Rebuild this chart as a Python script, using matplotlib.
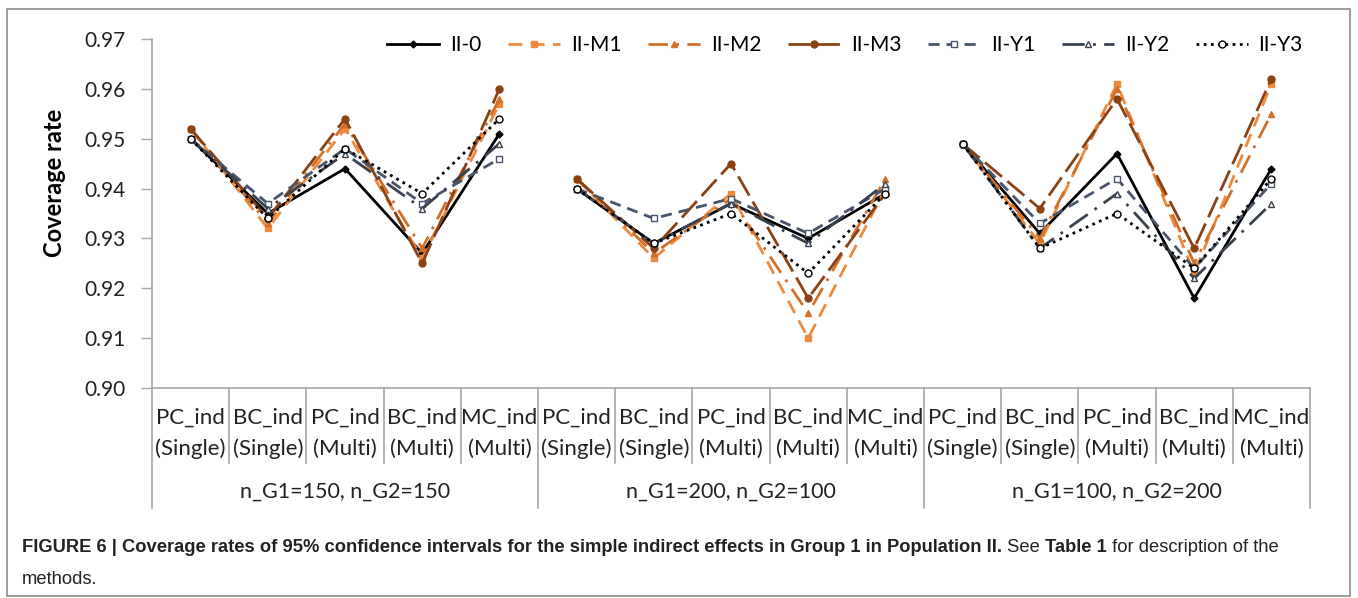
import matplotlib.pyplot as plt
from matplotlib.patches import Rectangle
from matplotlib.lines import Line2D

# categories
methods = ["PC_ind\n(Single)", "BC_ind\n(Single)", "PC_ind\n(Multi)", "BC_ind\n(Multi)", "MC_ind\n(Multi)"]
groups = ["n_G1=150, n_G2=150", "n_G1=200, n_G2=100", "n_G1=100, n_G2=200"]

# coverage rates, 5 methods x 3 sample-size groups
II_0  = [0.950, 0.935, 0.944, 0.927, 0.951,  0.940, 0.929, 0.937, 0.930, 0.939,  0.949, 0.931, 0.947, 0.918, 0.944]
II_M1 = [0.952, 0.932, 0.952, 0.926, 0.957,  0.942, 0.926, 0.939, 0.910, 0.940,  0.949, 0.929, 0.961, 0.923, 0.961]
II_M2 = [0.952, 0.933, 0.953, 0.928, 0.958,  0.942, 0.927, 0.938, 0.915, 0.942,  0.949, 0.930, 0.960, 0.925, 0.955]
II_M3 = [0.952, 0.934, 0.954, 0.925, 0.960,  0.942, 0.928, 0.945, 0.918, 0.939,  0.949, 0.936, 0.958, 0.928, 0.962]
II_Y1 = [0.950, 0.937, 0.948, 0.937, 0.946,  0.940, 0.934, 0.938, 0.931, 0.940,  0.949, 0.933, 0.942, 0.924, 0.941]
II_Y2 = [0.950, 0.936, 0.947, 0.936, 0.949,  0.940, 0.929, 0.937, 0.929, 0.941,  0.949, 0.928, 0.939, 0.922, 0.937]
II_Y3 = [0.950, 0.934, 0.948, 0.939, 0.954,  0.940, 0.929, 0.935, 0.923, 0.939,  0.949, 0.928, 0.935, 0.924, 0.942]

yticks = [0.90, 0.91, 0.92, 0.93, 0.94, 0.95, 0.96, 0.97]

series = [
    ("II-0", II_0, dict(color="black", ls="-", marker="D", ms=3.5, mfc="black")),
    ("II-M1", II_M1, dict(color="#EE8A3E", ls=(0, (5, 3)), marker="s", ms=5, mfc="#EE8A3E")),
    ("II-M2", II_M2, dict(color="#D2702A", ls=(0, (7, 3, 1, 3)), marker="^", ms=5, mfc="#D2702A")),
    ("II-M3", II_M3, dict(color="#8A4215", ls=(0, (8, 2.5)), marker="o", ms=5, mfc="#8A4215")),
    ("II-Y1", II_Y1, dict(color="#475469", ls=(0, (4, 2.5)), marker="s", ms=5, mfc="white")),
    ("II-Y2", II_Y2, dict(color="#38434F", ls=(0, (8, 3, 1, 3)), marker="^", ms=5, mfc="white")),
    ("II-Y3", II_Y3, dict(color="black", ls=(0, (1, 1.6)), marker="o", ms=5, mfc="white")),
]

W, H = 1358, 598
fig = plt.figure(figsize=(W / 100, H / 100), dpi=100)
ax = fig.add_axes([152 / W, 1 - 388 / H, (1310 - 152) / W, (388 - 39) / H])

chart_font = "Lato"
grey = "#A6A6A6"
txt_col = "#222222"

for name, vals, st in series:
    for g in range(3):
        xs = list(range(g * 5, g * 5 + 5))
        ax.plot(xs, vals[g * 5:g * 5 + 5], lw=2.0, mew=1.0, mec=st["color"],
                dash_capstyle="butt", solid_joinstyle="miter", **st,
                label=name if g == 0 else None)

ax.set_xlim(-0.5, 14.5)
ax.set_ylim(0.90, 0.97)
ax.set_yticks(yticks)
ax.set_yticklabels([f"{v:.2f}" for v in yticks], fontsize=15, family=chart_font, color=txt_col)
ax.tick_params(axis="y", direction="out", length=8, width=1, color=grey, pad=11)
ax.set_xticks([])
for s in ["top", "right"]:
    ax.spines[s].set_visible(False)
for s in ["left", "bottom"]:
    ax.spines[s].set_color(grey)
    ax.spines[s].set_linewidth(1.2)

px = 1.0 / (388 - 39)  # one pixel in axes-y units
ax.set_ylabel("Coverage rate", fontsize=17, fontweight="bold", family=chart_font)
ax.yaxis.set_label_coords(-(152 - 55) / (1310 - 152), 1 - (183 - 39) * px)
ax.yaxis.label.set_va("center")

# multi-level category axis
tr = ax.get_xaxis_transform()
for i in range(15):
    top, bot = methods[i % 5].split("\n")
    ax.text(i, -(418 - 388) * px, top, transform=tr, ha="center", va="center",
            fontsize=16, family=chart_font, color=txt_col)
    ax.text(i, -(449 - 388) * px, bot, transform=tr, ha="center", va="center",
            fontsize=16, family=chart_font, color=txt_col)
for k in range(16):
    x = k - 0.5
    bottom = 508 if k % 5 == 0 else 463
    ax.add_line(Line2D([x, x], [0, -(bottom - 388) * px], transform=tr,
                       color=grey, lw=1.2, clip_on=False))
for g, lab in enumerate(groups):
    ax.text(g * 5 + 2, -(492 - 388) * px, lab, transform=tr, ha="center", va="center",
            fontsize=15.5, family=chart_font, color=txt_col)

ax.legend(loc="center right", bbox_to_anchor=(1.01, 1 - (45 - 39) * px), ncol=7,
          frameon=False, handlelength=2.5, columnspacing=1.3, handletextpad=0.5,
          prop={"family": chart_font, "size": 15})

# frame around the figure
fig.patches.append(Rectangle((7 / W, 1 - 596 / H), (1350 - 7) / W, (596 - 9) / H,
                             transform=fig.transFigure, fill=False, ec="#8C8C8C", lw=1.2))

# caption with mixed bold / normal pieces
cap_font = "Liberation Sans"
cap_size = 13.2
pieces = [("FIGURE 6 | Coverage rates of 95% confidence intervals for the simple indirect effects in Group 1 in Population II.", "bold"),
          (" See ", "normal"), ("Table 1", "bold"), (" for description of the", "normal")]
fig.canvas.draw()
renderer = fig.canvas.get_renderer()
x0 = 22 / W
y1 = 1 - 548 / H
for txt, wt in pieces:
    t = fig.text(x0, y1, txt, fontsize=cap_size, fontweight=wt, family=cap_font,
                 ha="left", va="center", color=txt_col)
    bb = t.get_window_extent(renderer=renderer)
    x0 = bb.x1 / W
fig.text(22 / W, 1 - 579 / H, "methods.", fontsize=cap_size, family=cap_font,
         ha="left", va="center", color=txt_col)

fig.savefig("out.png", dpi=100)
